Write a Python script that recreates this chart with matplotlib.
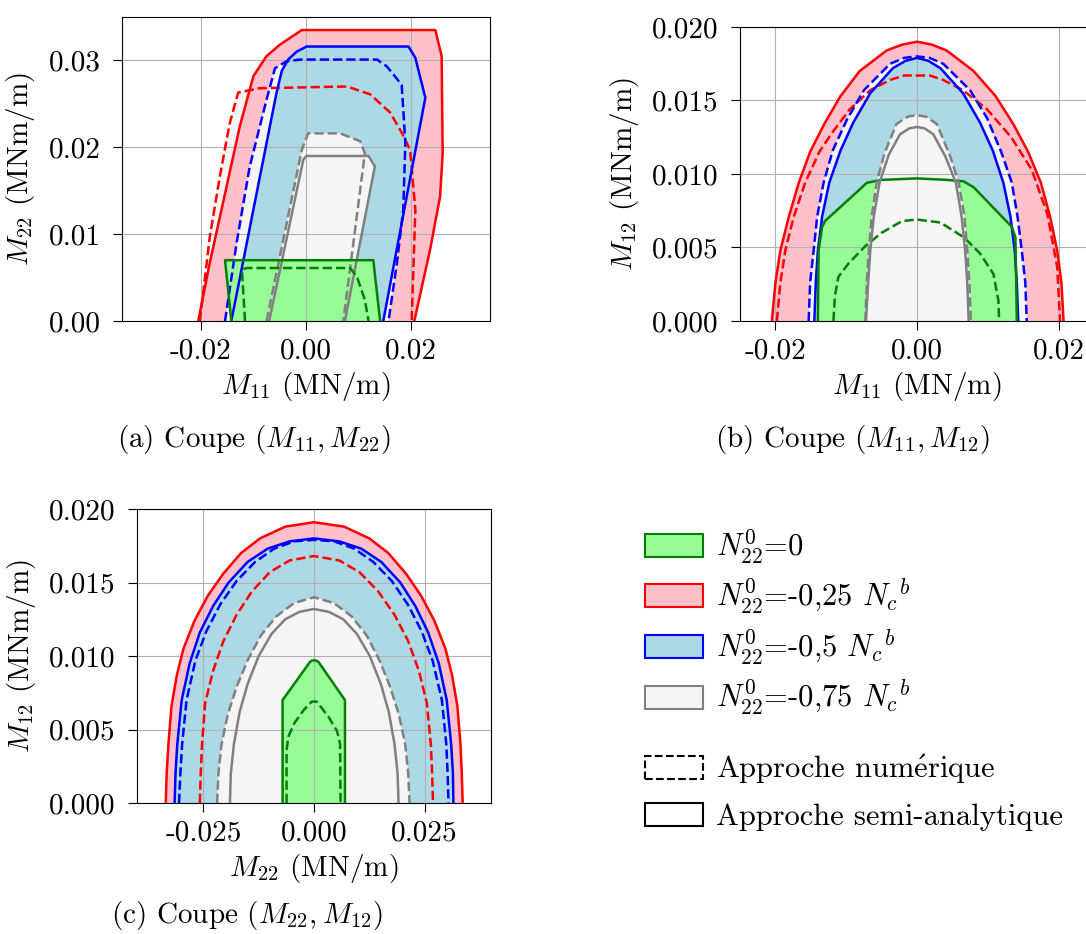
import numpy as np
import matplotlib
matplotlib.use("Agg")
import matplotlib.pyplot as plt
from matplotlib.patches import Patch
from matplotlib.ticker import FormatStrFormatter

plt.rcParams['font.family'] = ['cmr10', 'DejaVu Serif']
plt.rcParams['mathtext.fontset'] = 'cm'
plt.rcParams['axes.unicode_minus'] = False
plt.rcParams['font.size'] = 21
plt.rcParams['xtick.major.size'] = 6.5
plt.rcParams['ytick.major.size'] = 6.5
plt.rcParams['xtick.major.pad'] = 6
plt.rcParams['ytick.major.pad'] = 9

# level labels (legend)
levels = ["0", "-0,25", "-0,5", "-0,75"]

# ---- coupe (M11, M22) : points (x, y)
a_green_sol = [(-0.0142, 0), (-0.0154, 0.0070), (0.0128, 0.0070), (0.0141, 0)]
a_green_dash = [(-0.0116, 0), (-0.0122, 0.0059), (-0.0113, 0.0061), (0.0084, 0.0061),
                (0.0097, 0.0051), (0.0112, 0.0024), (0.0119, 0)]
a_red_sol = [(-0.0205, 0), (-0.0183, 0.0067), (-0.0151, 0.0155), (-0.0126, 0.0224),
             (-0.0100, 0.0282), (-0.0075, 0.0305), (-0.0050, 0.0318), (-0.0008, 0.0335),
             (0.0246, 0.0335), (0.0258, 0.0305), (0.0260, 0.0193), (0.0255, 0.0143),
             (0.0236, 0.0082), (0.0206, 0)]
a_red_dash = [(-0.0202, 0), (-0.0192, 0.0051), (-0.0183, 0.0097), (-0.0164, 0.0166),
              (-0.0145, 0.0228), (-0.0129, 0.0263), (-0.0113, 0.0265), (-0.0088, 0.0268),
              (0.0078, 0.0270), (0.0122, 0.0261), (0.0160, 0.0240), (0.0182, 0.0217),
              (0.0198, 0.0197), (0.0208, 0.0128), (0.0201, 0)]
a_blue_sol = [(-0.0142, 0), (-0.0056, 0.0263), (-0.0046, 0.0288), (-0.0034, 0.0301),
              (-0.0018, 0.0310), (0.0001, 0.0316), (0.0195, 0.0316), (0.0208, 0.0303),
              (0.0227, 0.0257), (0.0147, 0)]
a_blue_dash = [(-0.0154, 0), (-0.0132, 0.0090), (-0.0107, 0.0178), (-0.0075, 0.0255),
               (-0.0059, 0.0291), (-0.0037, 0.0299), (-0.0011, 0.0301), (0.0135, 0.0301),
               (0.0154, 0.0293), (0.0182, 0.0272), (0.0189, 0.0205), (0.0185, 0.0128),
               (0.0173, 0.0067), (0.0157, 0)]
a_gray_sol = [(-0.0070, 0), (-0.0005, 0.0186), (0.0001, 0.0190), (0.0119, 0.0190),
              (0.0131, 0.0178), (0.0074, 0)]
a_gray_dash = [(-0.0075, 0), (-0.0008, 0.0197), (0.0004, 0.0216), (0.0065, 0.0216),
               (0.0103, 0.0207), (0.0112, 0.0193), (0.0071, 0)]

# ---- coupe (M11, M12)
b_green_sol = [(-0.0140, 0), (-0.0139, 0.0048), (-0.0134, 0.0064), (-0.0130, 0.0068),
               (-0.0082, 0.0089), (-0.0071, 0.0094), (-0.0050, 0.0096), (0, 0.0097),
               (0.0042, 0.0096), (0.0066, 0.0095), (0.0080, 0.0091), (0.0134, 0.0064),
               (0.0139, 0.0057), (0.0141, 0)]
b_green_dash = [(-0.0118, 0), (-0.0116, 0.0017), (-0.0111, 0.0030), (-0.0097, 0.0039),
                (-0.0073, 0.0051), (-0.0050, 0.0060), (-0.0021, 0.0068), (0, 0.0069),
                (0.0033, 0.0067), (0.0066, 0.0057), (0.0089, 0.0046), (0.0108, 0.0032),
                (0.0115, 0.0014), (0.0116, 0)]
b_red_sol = [(-0.0205, 0), (-0.0200, 0.0026), (-0.0193, 0.0048), (-0.0181, 0.0071),
             (-0.0167, 0.0094), (-0.0151, 0.0115), (-0.0131, 0.0134), (-0.0108, 0.0153),
             (-0.0081, 0.0170), (-0.0043, 0.0184), (-0.0021, 0.0188), (0, 0.0190),
             (0.0021, 0.0188), (0.0042, 0.0184), (0.0080, 0.0170), (0.0111, 0.0153),
             (0.0136, 0.0134), (0.0157, 0.0115), (0.0175, 0.0094), (0.0188, 0.0071),
             (0.0198, 0.0048), (0.0204, 0.0026), (0.0207, 0)]
b_red_dash = [(-0.0198, 0), (-0.0193, 0.0026), (-0.0186, 0.0048), (-0.0174, 0.0071),
              (-0.0158, 0.0094), (-0.0138, 0.0115), (-0.0120, 0.0128), (-0.0095, 0.0144),
              (-0.0066, 0.0157), (-0.0038, 0.0164), (-0.0018, 0.0167), (0, 0.0167),
              (0.0018, 0.0167), (0.0037, 0.0164), (0.0065, 0.0157), (0.0099, 0.0144),
              (0.0133, 0.0125), (0.0162, 0.0103), (0.0184, 0.0073), (0.0198, 0.0037),
              (0.0202, 0)]
b_blue_sol = [(-0.0145, 0), (-0.0143, 0.0026), (-0.0140, 0.0048), (-0.0134, 0.0071),
              (-0.0124, 0.0094), (-0.0108, 0.0116), (-0.0090, 0.0135), (-0.0066, 0.0155),
              (-0.0034, 0.0172), (-0.0016, 0.0177), (0, 0.0179), (0.0016, 0.0177),
              (0.0033, 0.0172), (0.0065, 0.0155), (0.0089, 0.0135), (0.0107, 0.0116),
              (0.0122, 0.0094), (0.0132, 0.0071), (0.0138, 0.0048), (0.0141, 0.0026),
              (0.0143, 0)]
b_blue_dash = [(-0.0153, 0), (-0.0151, 0.0026), (-0.0146, 0.0048), (-0.0141, 0.0071),
               (-0.0132, 0.0094), (-0.0119, 0.0116), (-0.0099, 0.0137), (-0.0075, 0.0157),
               (-0.0038, 0.0175), (-0.0018, 0.0179), (0, 0.0180), (0.0018, 0.0179),
               (0.0037, 0.0175), (0.0075, 0.0157), (0.0099, 0.0138), (0.0119, 0.0115),
               (0.0134, 0.0094), (0.0142, 0.0071), (0.0148, 0.0048), (0.0153, 0.0026),
               (0.0155, 0)]
b_gray_sol = [(-0.0072, 0), (-0.0069, 0.0026), (-0.0066, 0.0048), (-0.0061, 0.0071),
              (-0.0053, 0.0094), (-0.0040, 0.0113), (-0.0024, 0.0127), (-0.0011, 0.0131),
              (0, 0.0132), (0.0011, 0.0131), (0.0023, 0.0127), (0.0040, 0.0112),
              (0.0055, 0.0094), (0.0063, 0.0071), (0.0068, 0.0048), (0.0071, 0.0026),
              (0.0073, 0)]
b_gray_dash = [(-0.0073, 0), (-0.0071, 0.0026), (-0.0068, 0.0048), (-0.0064, 0.0071),
               (-0.0057, 0.0094), (-0.0046, 0.0114), (-0.0029, 0.0134), (-0.0013, 0.0139),
               (0, 0.0140), (0.0013, 0.0139), (0.0028, 0.0134), (0.0047, 0.0112),
               (0.0059, 0.0094), (0.0067, 0.0071), (0.0071, 0.0048), (0.0074, 0.0026),
               (0.0076, 0)]

# ---- coupe (M22, M12)
c_green_sol = [(-0.0071, 0), (-0.0071, 0.0070), (-0.0009, 0.0096), (-0.0004, 0.0097),
               (0.0004, 0.0097), (0.0010, 0.0096), (0.0070, 0.0070), (0.0070, 0)]
c_green_dash = [(-0.0062, 0), (-0.0062, 0.0036), (-0.0058, 0.0045), (-0.0045, 0.0054),
                (-0.0024, 0.0063), (-0.0005, 0.0069), (0.0006, 0.0069), (0.0032, 0.0059),
                (0.0052, 0.0049), (0.0059, 0.0040), (0.0060, 0)]
c_red_sol = [(-0.0335, 0), (-0.0333, 0.0020), (-0.0329, 0.0040), (-0.0322, 0.0066),
             (-0.0310, 0.0087), (-0.0295, 0.0105), (-0.0270, 0.0124), (-0.0240, 0.0141),
             (-0.0205, 0.0156), (-0.0165, 0.0170), (-0.0122, 0.0180), (-0.0065, 0.0188),
             (0, 0.0191), (0.0068, 0.0188), (0.0125, 0.0180), (0.0168, 0.0170),
             (0.0208, 0.0156), (0.0242, 0.0141), (0.0272, 0.0124), (0.0297, 0.0105),
             (0.0312, 0.0087), (0.0324, 0.0066), (0.0331, 0.0040), (0.0334, 0.0020),
             (0.0336, 0)]
c_red_dash = [(-0.0258, 0), (-0.0256, 0.0020), (-0.0253, 0.0040), (-0.0246, 0.0068),
              (-0.0228, 0.0090), (-0.0205, 0.0110), (-0.0175, 0.0128), (-0.0140, 0.0144),
              (-0.0100, 0.0157), (-0.0055, 0.0165), (0, 0.0168), (0.0057, 0.0165),
              (0.0103, 0.0157), (0.0145, 0.0144), (0.0182, 0.0128), (0.0213, 0.0110),
              (0.0237, 0.0090), (0.0255, 0.0068), (0.0264, 0.0040), (0.0267, 0.0020),
              (0.0269, 0)]
c_blue_sol = [(-0.0315, 0), (-0.0313, 0.0020), (-0.0309, 0.0040), (-0.0299, 0.0070),
              (-0.0281, 0.0095), (-0.0258, 0.0116), (-0.0228, 0.0134), (-0.0193, 0.0150),
              (-0.0150, 0.0164), (-0.0105, 0.0173), (-0.0055, 0.0178), (0, 0.0180),
              (0.0057, 0.0178), (0.0107, 0.0173), (0.0152, 0.0164), (0.0195, 0.0150),
              (0.0229, 0.0134), (0.0258, 0.0116), (0.0282, 0.0095), (0.0300, 0.0070),
              (0.0310, 0.0040), (0.0314, 0.0020), (0.0315, 0)]
c_blue_dash = [(-0.0305, 0), (-0.0302, 0.0020), (-0.0298, 0.0040), (-0.0288, 0.0070),
               (-0.0268, 0.0097), (-0.0243, 0.0117), (-0.0212, 0.0135), (-0.0175, 0.0151),
               (-0.0133, 0.0164), (-0.0090, 0.0173), (-0.0045, 0.0178), (0, 0.0179),
               (0.0046, 0.0178), (0.0091, 0.0173), (0.0134, 0.0164), (0.0176, 0.0151),
               (0.0212, 0.0135), (0.0243, 0.0117), (0.0268, 0.0097), (0.0289, 0.0070),
               (0.0299, 0.0040), (0.0302, 0.0020), (0.0304, 0)]
c_gray_sol = [(-0.0190, 0), (-0.0188, 0.0020), (-0.0181, 0.0040), (-0.0168, 0.0062),
              (-0.0150, 0.0081), (-0.0125, 0.0100), (-0.0096, 0.0115), (-0.0065, 0.0125),
              (-0.0033, 0.0130), (0, 0.0132), (0.0034, 0.0130), (0.0066, 0.0125),
              (0.0097, 0.0115), (0.0126, 0.0100), (0.0151, 0.0081), (0.0169, 0.0062),
              (0.0182, 0.0040), (0.0189, 0.0020), (0.0191, 0)]
c_gray_dash = [(-0.0219, 0), (-0.0216, 0.0020), (-0.0209, 0.0040), (-0.0195, 0.0060),
               (-0.0175, 0.0079), (-0.0150, 0.0097), (-0.0120, 0.0114), (-0.0085, 0.0127),
               (-0.0045, 0.0136), (0, 0.0140), (0.0045, 0.0136), (0.0085, 0.0127),
               (0.0119, 0.0114), (0.0148, 0.0097), (0.0172, 0.0079), (0.0192, 0.0060),
               (0.0206, 0.0040), (0.0213, 0.0020), (0.0216, 0)]

edge = {"green": "green", "red": "red", "blue": "blue", "gray": "gray"}
face = {"green": "palegreen", "red": "pink", "blue": "lightblue", "gray": "whitesmoke"}


def draw(ax, curves, order):
    # fills: numeric contour first (whitesmoke), then semi-analytic in colour
    for lvl in order:
        sol, dash = curves[lvl]
        d = np.array(dash)
        ax.fill(d[:, 0], d[:, 1], color="whitesmoke", lw=0, zorder=1)
        s = np.array(sol)
        ax.fill(s[:, 0], s[:, 1], color=face[lvl], lw=0, zorder=1)
    for lvl in order:
        sol, dash = curves[lvl]
        s = np.array(sol)
        d = np.array(dash)
        ax.plot(s[:, 0], s[:, 1], color=edge[lvl], lw=1.8, zorder=3)
        ax.plot(d[:, 0], d[:, 1], color=edge[lvl], lw=1.8, ls="--", zorder=3)
    ax.grid(True)


W, H = 1086, 934
fig = plt.figure(figsize=(W / 100, H / 100), dpi=100)

# (a)
ax1 = fig.add_axes([122 / W, 1 - 321 / H, 368 / W, 304 / H])
draw(ax1, {"green": (a_green_sol, a_green_dash), "red": (a_red_sol, a_red_dash),
           "blue": (a_blue_sol, a_blue_dash), "gray": (a_gray_sol, a_gray_dash)},
     ["red", "blue", "gray", "green"])
ax1.set_xlim(-0.035, 0.035)
ax1.set_ylim(0, 0.035)
ax1.set_xticks([-0.02, 0.0, 0.02])
ax1.set_yticks([0.0, 0.01, 0.02, 0.03])
ax1.xaxis.set_major_formatter(FormatStrFormatter("%.2f"))
ax1.yaxis.set_major_formatter(FormatStrFormatter("%.2f"))
ax1.set_xlabel(r"$M_{11}$ (MN/m)", labelpad=4)
ax1.set_ylabel(r"$M_{22}$ (MNm/m)", labelpad=8)

# (b) -- right part of this axes runs past the figure edge
ax2 = fig.add_axes([740 / W, 1 - 321 / H, 354 / W, 294 / H])
draw(ax2, {"green": (b_green_sol, b_green_dash), "red": (b_red_sol, b_red_dash),
           "blue": (b_blue_sol, b_blue_dash), "gray": (b_gray_sol, b_gray_dash)},
     ["red", "blue", "green", "gray"])
ax2.set_xlim(-0.025, 0.025)
ax2.set_ylim(0, 0.020)
ax2.set_xticks([-0.02, 0.0, 0.02])
ax2.set_yticks([0.0, 0.005, 0.010, 0.015, 0.020])
ax2.xaxis.set_major_formatter(FormatStrFormatter("%.2f"))
ax2.yaxis.set_major_formatter(FormatStrFormatter("%.3f"))
ax2.set_xlabel(r"$M_{11}$ (MN/m)", labelpad=4)
ax2.set_ylabel(r"$M_{12}$ (MNm/m)", labelpad=8)

# (c)
ax3 = fig.add_axes([137 / W, 1 - 803 / H, 354 / W, 294 / H])
draw(ax3, {"green": (c_green_sol, c_green_dash), "red": (c_red_sol, c_red_dash),
           "blue": (c_blue_sol, c_blue_dash), "gray": (c_gray_sol, c_gray_dash)},
     ["red", "blue", "gray", "green"])
ax3.set_xlim(-0.04, 0.04)
ax3.set_ylim(0, 0.020)
ax3.set_xticks([-0.025, 0.0, 0.025])
ax3.set_yticks([0.0, 0.005, 0.010, 0.015, 0.020])
ax3.xaxis.set_major_formatter(FormatStrFormatter("%.3f"))
ax3.yaxis.set_major_formatter(FormatStrFormatter("%.3f"))
ax3.set_xlabel(r"$M_{22}$ (MN/m)", labelpad=4)
ax3.set_ylabel(r"$M_{12}$ (MNm/m)", labelpad=8)

# captions
fig.text(254 / W, 1 - 440 / H, r"(a) Coupe $(M_{11}, M_{22})$", ha="center", va="center")
fig.text(853 / W, 1 - 440 / H, r"(b) Coupe $(M_{11}, M_{12})$", ha="center", va="center")
fig.text(247 / W, 1 - 915 / H, r"(c) Coupe $(M_{22}, M_{12})$", ha="center", va="center")

# legends
lvl_handles = [Patch(facecolor=face[k], edgecolor=edge[k], lw=1.5)
               for k in ["green", "red", "blue", "gray"]]
lvl_labels = [r"$N_{22}^{0}$=" + levels[0]] + \
             [r"$N_{22}^{0}$=" + v + r" $N_c{}^b$" for v in levels[1:]]
fig.legend(lvl_handles, lvl_labels, loc="upper left",
           bbox_to_anchor=(633 / W, 1 - 515 / H), frameon=False,
           handlelength=1.9, handleheight=0.78, labelspacing=0.35,
           handletextpad=0.4, borderaxespad=0, fontsize=22)
style_handles = [Patch(facecolor="white", edgecolor="black", ls="--", lw=1.5),
                 Patch(facecolor="white", edgecolor="black", lw=1.5)]
fig.legend(style_handles, [r"Approche num$\mathrm{\acute{e}}$rique",
                           "Approche semi-analytique"],
           loc="upper left", bbox_to_anchor=(633 / W, 1 - 740 / H), frameon=False,
           handlelength=1.9, handleheight=0.78, labelspacing=0.55,
           handletextpad=0.4, borderaxespad=0, fontsize=22)

fig.savefig("out.png", dpi=100)
